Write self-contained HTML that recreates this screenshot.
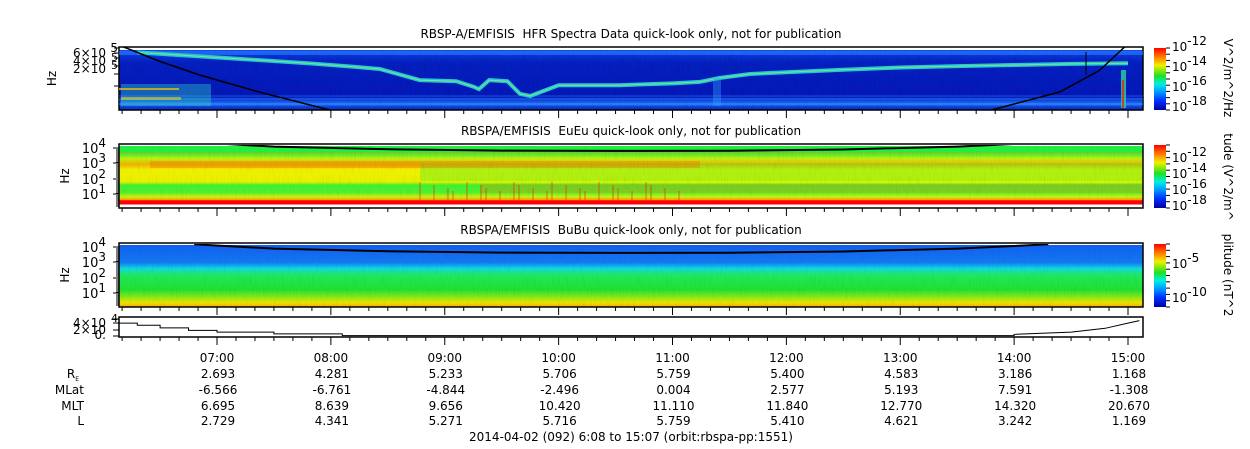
<!DOCTYPE html>
<html><head><meta charset="utf-8">
<style>
html,body{margin:0;padding:0;background:#fff;}
svg{display:block;font-family:"DejaVu Sans","Liberation Sans",sans-serif;}
text{white-space:pre;}
</style></head>
<body>
<svg id="c" width="1250" height="449" xmlns="http://www.w3.org/2000/svg">
<defs>
<linearGradient id="jet" x1="0" y1="1" x2="0" y2="0">
<stop offset="0" stop-color="#0000a0"/><stop offset="0.15" stop-color="#0030ff"/>
<stop offset="0.3" stop-color="#00a0ff"/><stop offset="0.42" stop-color="#00f0e0"/>
<stop offset="0.55" stop-color="#20e020"/><stop offset="0.72" stop-color="#f0f000"/>
<stop offset="0.85" stop-color="#ff8000"/><stop offset="1" stop-color="#ff0000"/>
</linearGradient>
<linearGradient id="g1" x1="0" y1="0" x2="0" y2="1">
<stop offset="0" stop-color="#1050f0"/><stop offset="0.08" stop-color="#0a36d8"/>
<stop offset="0.2" stop-color="#0520c0"/><stop offset="0.75" stop-color="#0418b8"/>
<stop offset="0.84" stop-color="#0a30d0"/><stop offset="0.9" stop-color="#2a80ff"/>
<stop offset="0.95" stop-color="#0c3ad8"/><stop offset="1" stop-color="#0630c8"/>
</linearGradient>
<linearGradient id="g2" x1="0" y1="0" x2="0" y2="1">
<stop offset="0" stop-color="#20f040"/><stop offset="0.11" stop-color="#20f040"/>
<stop offset="0.12" stop-color="#f0a000"/><stop offset="0.14" stop-color="#50f030"/>
<stop offset="0.2" stop-color="#c0f010"/><stop offset="0.3" stop-color="#f0b000"/>
<stop offset="0.38" stop-color="#f0f000"/><stop offset="0.58" stop-color="#e8f000"/>
<stop offset="0.63" stop-color="#40f030"/><stop offset="0.75" stop-color="#50f030"/>
<stop offset="0.82" stop-color="#d0f010"/><stop offset="0.87" stop-color="#f0a000"/>
<stop offset="0.88" stop-color="#ff0000"/><stop offset="0.94" stop-color="#ff0000"/>
<stop offset="0.945" stop-color="#ffffff"/><stop offset="1" stop-color="#ffffff"/>
</linearGradient>
<linearGradient id="g3" x1="0" y1="0" x2="0" y2="1">
<stop offset="0" stop-color="#1060f0"/><stop offset="0.28" stop-color="#1478f0"/>
<stop offset="0.38" stop-color="#10d8e0"/><stop offset="0.48" stop-color="#20e860"/>
<stop offset="0.72" stop-color="#20e030"/><stop offset="0.85" stop-color="#90e818"/>
<stop offset="0.93" stop-color="#f0e000"/><stop offset="1" stop-color="#f0b000"/>
</linearGradient>
<filter id="noise" x="0" y="0" width="100%" height="100%">
<feTurbulence type="fractalNoise" baseFrequency="0.9 0.08" numOctaves="2" seed="3"/>
<feColorMatrix type="matrix" values="0 0 0 0 0  0 0 0 0 0  0 0 0 0 0  0 0 0 1.2 -0.6"/>
</filter>
</defs>
<g id="root"></g>
</svg>
<script>
// ---- data ----
const tickLabels = ["07:00","08:00","09:00","10:00","11:00","12:00","13:00","14:00","15:00"];
const tickHours = [7,8,9,10,11,12,13,14,15];
const RE   = ["2.693","4.281","5.233","5.706","5.759","5.400","4.583","3.186","1.168"];
const MLat = ["-6.566","-6.761","-4.844","-2.496","0.004","2.577","5.193","7.591","-1.308"];
const MLT  = ["6.695","8.639","9.656","10.420","11.110","11.840","12.770","14.320","20.670"];
const Lval = ["2.729","4.341","5.271","5.716","5.759","5.410","4.621","3.242","1.169"];
// HFR upper-hybrid trace (hour, log10 freq)
const traceT = [6.3,6.8,7.3,7.8,8.2,8.43,8.78,9.1,9.25,9.3,9.39,9.55,9.66,9.75,10.0,10.53,11.0,11.24,11.41,11.68,12.0,12.5,13.0,13.5,14.0,14.5,15.0];
const traceF = [5.6,5.5,5.4,5.3,5.2,5.14,4.83,4.8,4.65,4.58,4.83,4.8,4.45,4.39,4.69,4.69,4.74,4.78,4.89,5.0,5.05,5.12,5.18,5.22,5.25,5.28,5.3];
// black curve in HFR panel (hour, log10 freq)
const curveT = [6.18,6.5,6.85,7.37,7.99,9.0,12.0,13.8,14.4,14.75,14.97];
const curveF = [5.75,5.35,4.97,4.5,4.0,3.7,3.6,4.0,4.5,5.1,5.75];
// wave-panel black arc (hour, log10 freq)
const arcT=[6.8,7.5,8.5,9.5,10.5,11.5,12.5,13.5,14.0,14.3];
const arcF=[4.3,4.05,3.9,3.82,3.8,3.81,3.88,4.05,4.2,4.3];
// bottom panel line (hour, value in 1e4)
const lineT = [6.13,6.3,6.3,6.5,6.5,6.75,6.75,7.0,7.0,7.5,7.5,8.1,8.1,14.0,14.0,14.5,14.8,15.0,15.1];
const lineV = [3.0,3.0,2.5,2.5,1.9,1.9,1.3,1.3,0.9,0.9,0.5,0.5,0.1,0.1,0.4,0.9,1.8,3.0,3.6];

const NS="http://www.w3.org/2000/svg";
const root=document.getElementById('root');
const X0=119,X1=1143;
const xs=h=>217+(h-7)*113.875;
function mk(tag,attrs,parent){const e=document.createElementNS(NS,tag);for(const k in attrs)e.setAttribute(k,attrs[k]);(parent||root).appendChild(e);return e;}
function txt(x,y,s,anchor,size,parent){const t=mk('text',{x:x,y:y,'text-anchor':anchor||'middle','font-size':size||12,fill:'#000'},parent);t.textContent=s;return t;}

const panels=[
 {y0:47,y1:110,fill:'url(#g1)',title:'RBSP-A/EMFISIS  HFR Spectra Data quick-look only, not for publication',name:'hfr-panel'},
 {y0:144,y1:208,fill:'url(#g2)',title:'RBSPA/EMFISIS  EuEu quick-look only, not for publication',name:'eueu-panel'},
 {y0:243,y1:307,fill:'url(#g3)',title:'RBSPA/EMFISIS  BuBu quick-look only, not for publication',name:'bubu-panel'}
];
panels.forEach((p,i)=>{
 const g=mk('g',{});
 
 
 mk('rect',{x:X0,y:p.y0+(i==0?3:2),width:X1-X0,height:p.y1-p.y0-(i==0?3:2),fill:p.fill},g);
 if(i==1){
  mk('rect',{x:420,y:163,width:X1-420,height:18,fill:'#40f030',opacity:0.35},g);
  mk('rect',{x:150,y:161,width:550,height:7,fill:'#f07000',opacity:0.35},g);
  mk('rect',{x:480,y:184,width:663,height:9,fill:'#f08000',opacity:0.3},g);
 }
 mk('rect',{x:X0,y:p.y0+2,width:X1-X0,height:p.y1-p.y0-(i==1?7:2),fill:'#000',filter:'url(#noise)',opacity:i==0?0.25:0.12},g);
 mk('rect',{x:X0,y:p.y0,width:X1-X0,height:p.y1-p.y0,fill:'none',stroke:'#000','stroke-width':1.5},g);
 const t=txt(631,p.y0-9,p.title,'middle',12,g);
 
 
 const hz=txt(0,0,'Hz','middle',12,g);
 hz.setAttribute('transform','translate('+(i==0?56:69)+','+((p.y0+p.y1)/2)+') rotate(-90)');
 
 
 for(let m=0;m<=540;m+=10){const h=6+m/60;const x=xs(h);if(x<X0+1)continue;if(x>X1-1)break;const big=m%60==0;
  mk('line',{x1:x,x2:x,y1:p.y1,y2:p.y1+(big?8:4),stroke:'#000'},g);}
 const cb=mk('rect',{x:1154,y:p.y0+1,width:12,height:p.y1-p.y0-1,fill:'url(#jet)'},g);
 
 
 for(let k=0;k<=10;k++){const yy=p.y0+1+k*(p.y1-p.y0-1)/10;mk('line',{x1:1166,x2:1170,y1:yy,y2:yy,stroke:'#000'},g);}
});
function sup(x,y,base,e,parent){const t=mk('text',{x:x,y:y,'text-anchor':'end','font-size':13,fill:'#000'},parent);
 t.appendChild(document.createTextNode(base));const s=mk('tspan',{dy:-6,'font-size':12},t);s.textContent=e;return t;}
[[144,208],[243,307]].forEach(([y0,y1])=>{
 const ys=[y0+4,y0+19,y0+35,y0+50];
 ['4','3','2','1'].forEach((e,k)=>{sup(106,ys[k]+5,'10',e);mk('line',{x1:X0-6,x2:X0,y1:ys[k],y2:ys[k],stroke:'#000'});
  for(let j=1;j<8;j++){const yy=ys[k]+j*2;if(yy<y1)mk('line',{x1:X0-3,x2:X0,y1:yy,y2:yy,stroke:'#000'});}});
});
txt(118,52,'5','end',12);
txt(106,57,'6×10','end',12);txt(106,65,'4×10','end',12);txt(106,73,'2×10','end',12);
txt(118,61,'5','end',11);txt(118,69,'5','end',11);
[48,53,58,66,74,86].forEach(y=>mk('line',{x1:X0-5,x2:X0,y1:y,y2:y,stroke:'#000'}));
const cbl=[[1172,51,'10','-12'],[1172,71,'10','-14'],[1172,91,'10','-16'],[1172,111,'10','-18'],
 [1172,162,'10','-12'],[1172,178,'10','-14'],[1172,194,'10','-16'],[1172,210,'10','-18'],
 [1172,268,'10','-5'],[1172,302,'10','-10']];
cbl.forEach(c=>{const t=mk('text',{x:c[0],y:c[1],'font-size':12,fill:'#000'});t.appendChild(document.createTextNode(c[2]));const s=mk('tspan',{dy:-6,'font-size':12},t);s.textContent=c[3];});
[['V^2/m^2/Hz',78],['tude (V^2/m^',177],['plitude (nT^2',275]].forEach(([s,y])=>{const t=txt(0,0,s,'middle',12);t.setAttribute('transform','translate(1224,'+y+') rotate(90)');});

const y1s=f=>110-(f-4.0)*36;
function poly(T,F,fx,fy,attrs,name){const pts=T.map((t,i)=>fx(t).toFixed(1)+','+fy(F[i]).toFixed(1)).join(' ');
 const p=mk('polyline',Object.assign({points:pts,fill:'none'},attrs));return p;}
[96,99,101,104].forEach((y,k)=>mk('line',{x1:X0,x2:X1,y1:y,y2:y,stroke:k%2?'#2a8cff':'#1660f0','stroke-width':1,opacity:0.8}));
mk('rect',{x:X0+2,y:84,width:90,height:22,fill:'#30d0c0',opacity:0.4});
mk('rect',{x:X0+2,y:97,width:60,height:3,fill:'#e8d020',opacity:0.6});
mk('line',{x1:X0,x2:X0+60,y1:89,y2:89,stroke:'#f0c000','stroke-width':1.5});
mk('rect',{x:X0,y:51,width:X1-X0,height:4,fill:'#2a7cff',opacity:0.6});
poly(traceT,traceF,xs,y1s,{stroke:'#20c8d8','stroke-width':4},'hfr-trace');
poly(traceT,traceF,xs,y1s,{stroke:'#d0f040','stroke-width':1,opacity:0.6},'hfr-trace-core');
mk('rect',{x:713,y:78,width:8,height:28,fill:'#30a0ff',opacity:0.4});
mk('rect',{x:1121,y:70,width:5,height:38,fill:'#30d0a0',opacity:0.8});
mk('line',{x1:1123,x2:1123,y1:80,y2:108,stroke:'#f02000','stroke-width':1.5});
const clip=mk('clipPath',{id:'cp1'});mk('rect',{x:X0,y:47,width:X1-X0,height:63},clip);
poly(curveT,curveF,xs,y1s,{stroke:'#000','stroke-width':1.5,'clip-path':'url(#cp1)'},'hfr-black-curve');
mk('line',{x1:1086,x2:1086,y1:52,y2:75,stroke:'#000','stroke-width':1});
const y2s=f=>208-(f-0.5)*(64/3.7);
const cp2=mk('clipPath',{id:'cp2'});mk('rect',{x:X0,y:145,width:X1-X0,height:63},cp2);
poly(arcT,arcF,xs,y2s,{stroke:'#000','stroke-width':2,'clip-path':'url(#cp2)'},'eueu-black-curve');
const y3s=f=>y2s(f)+102;
const cp3=mk('clipPath',{id:'cp3'});mk('rect',{x:X0,y:244,width:X1-X0,height:63},cp3);
poly(arcT,arcF,xs,y3s,{stroke:'#000','stroke-width':2,'clip-path':'url(#cp3)'},'bubu-black-curve');
for(let k=0;k<24;k++){const x=420+k*11+(k%3)*3;mk('line',{x1:x,x2:x,y1:182+(k%4)*3,y2:200,stroke:'#f02000','stroke-width':1,opacity:0.6});}
// Panel 4
const p4=mk('g',{});
mk('rect',{x:X0,y:317,width:X1-X0,height:20,fill:'#fff',stroke:'#000','stroke-width':1.5},p4);
const y4s=v=>336-v*(18/4.2);
poly(lineT,lineV,xs,y4s,{stroke:'#000','stroke-width':1},'density-line');
txt(106,327,'4×10','end',12);txt(118,322,'4','end',11);txt(106,334,'2×10','end',12);txt(106,339,'0.','end',12);
[319,323,330,336].forEach(y=>mk('line',{x1:X0-6,x2:X0,y1:y,y2:y,stroke:'#000'}));
for(let m=0;m<=540;m+=10){const x=xs(6+m/60);if(x<X0+1)continue;if(x>X1-1)break;const big=m%60==0;mk('line',{x1:x,x2:x,y1:337,y2:337+(big?8:4),stroke:'#000'});}
tickHours.forEach((h,i)=>{const x=xs(h);
 const t=txt(x,362,tickLabels[i],'middle',12);
 txt(x+1,378,RE[i],'middle',12);txt(x+1,394,MLat[i],'middle',12);txt(x+1,410,MLT[i],'middle',12);txt(x+1,425,Lval[i],'middle',12);});
const re=txt(79,378,'R','end',12);const sb=mk('tspan',{dy:3,'font-size':6},re);sb.textContent='E';
txt(84,394,'MLat','end',12);txt(84,410,'MLT','end',12);txt(84,425,'L','end',12);
const ft=txt(631,441,'2014-04-02 (092) 6:08 to 15:07 (orbit:rbspa-pp:1551)','middle',12);


</script>
</body></html>
